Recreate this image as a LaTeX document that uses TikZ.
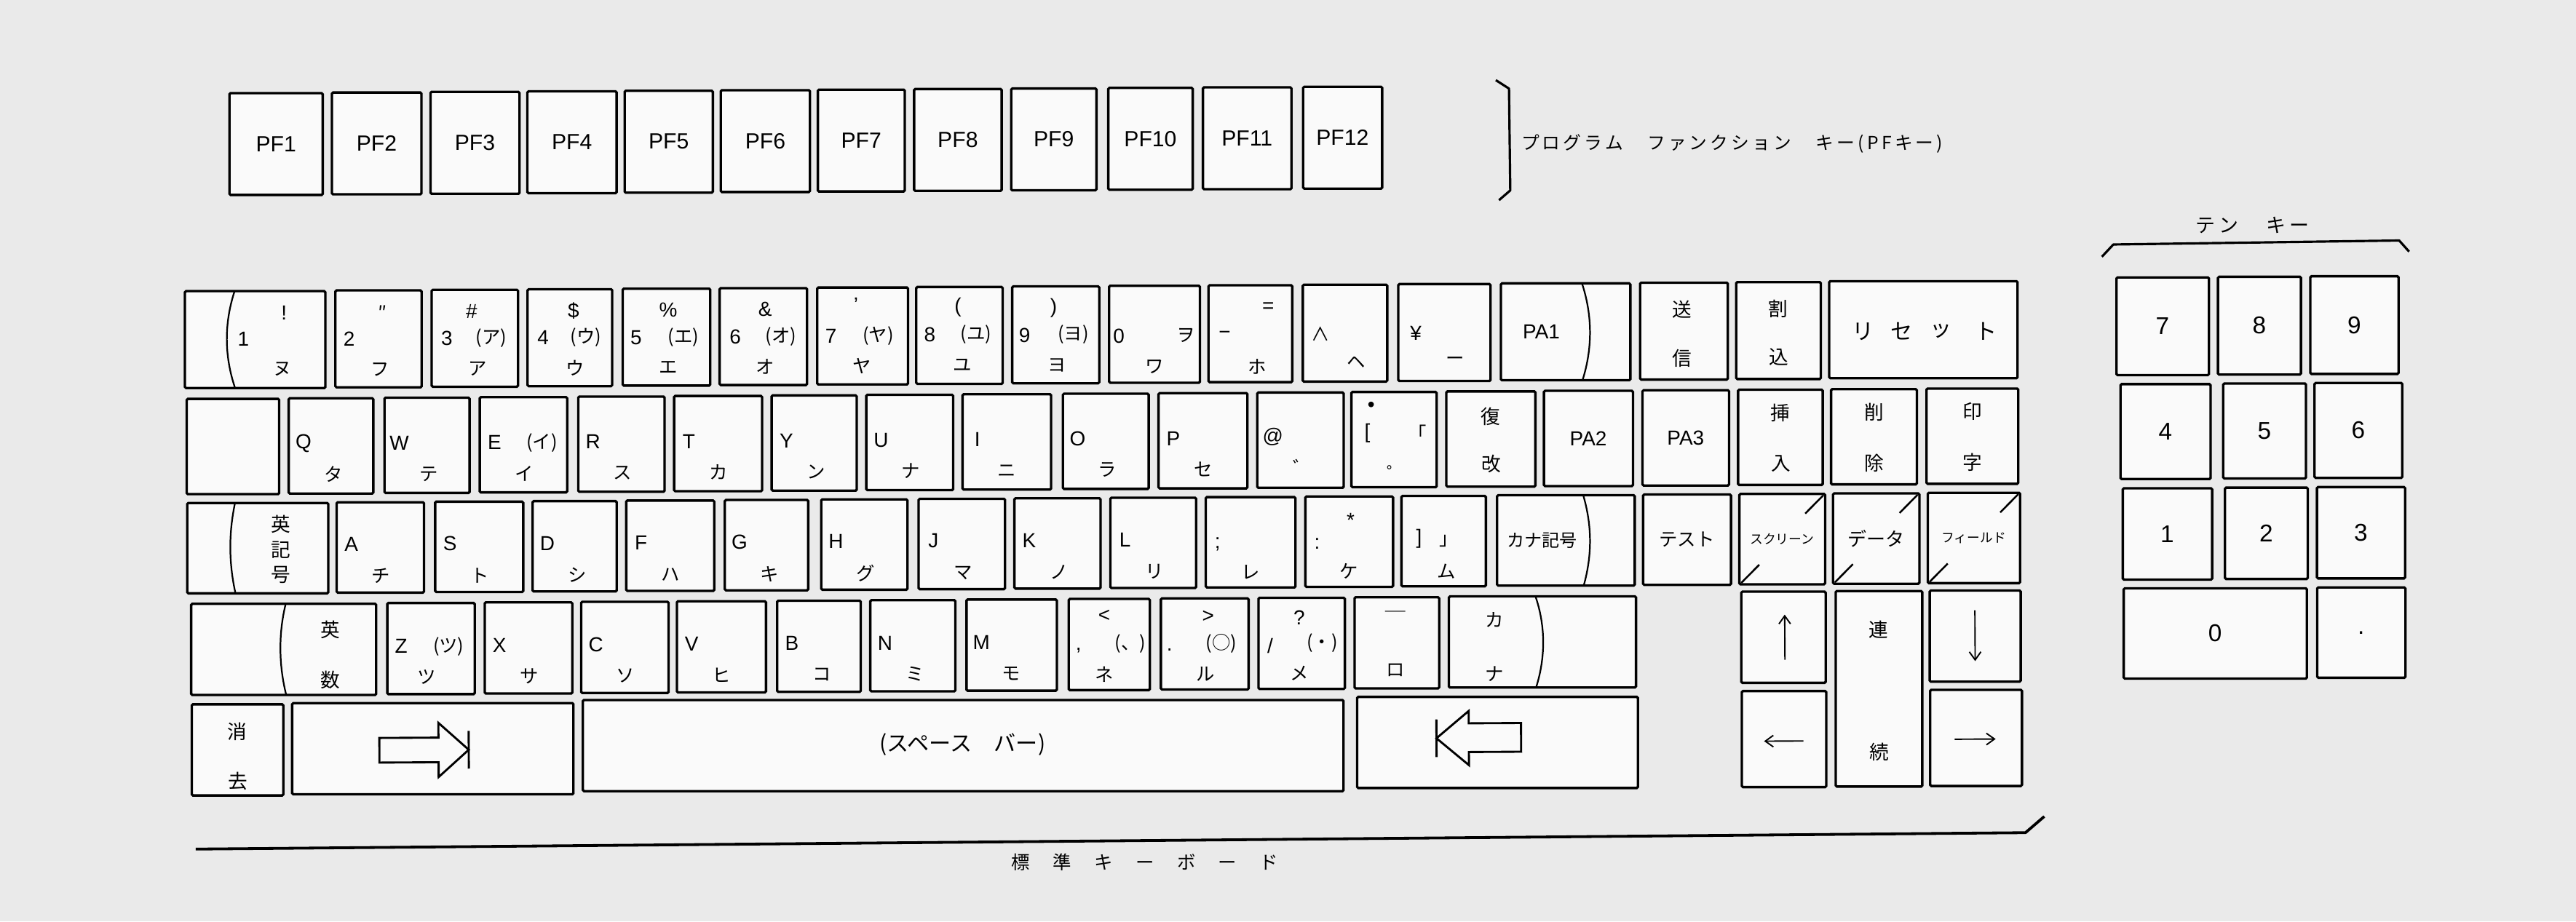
\documentclass[tikz,border=0pt]{standalone}
\usepackage{fontspec}
\setmainfont{Liberation Sans}
\newfontfamily\jp{Noto Sans CJK JP}
\usetikzlibrary{arrows.meta}
\definecolor{bg}{RGB}{234,234,234}
\definecolor{keyfill}{RGB}{250,250,250}
\def\U{0.025cm}
\newcommand\kbkey[5]{\node[key, minimum width={(#4-#2)*\U}, minimum height={(#5-#3)*\U}] (#1) at ({(#2+#4)/2},{(#3+#5)/2}) {};}
\newcommand\kbLK[9]{\kbkey{#1}{#2}{#4}{#3}{#5}\node[lat] (#1-l) at ({#2+9},{#8}) {#6};\node[kana] (#1-b) at ({#2+27},{#9}) {#7};}
\newcommand\RB[5]{\kbLK{#1}{#2}{#3}{243}{301}{#4}{#5}{270.5}{289.5}}
\newcommand\RC[5]{\kbLK{#1}{#2}{#3}{306.5}{361.5}{#4}{#5}{332}{351.5}}
\newcommand\RD[5]{\kbLK{#1}{#2}{#3}{368}{423.5}{#4}{#5}{394}{413}}
\newcommand\kbslash[4]{\draw[slash] ({#2-1},{#3+1}) -- ({#2-12},{#3+12}); \draw[slash] ({#1+1},{#4-1}) -- ({#1+12},{#4-12});}
\begin{document}
\begin{tikzpicture}[x=0.025cm,y=-0.025cm,
  key/.style={draw=black, line width=1.05pt, fill=keyfill, rounded corners=0.5pt, inner sep=0pt, outer sep=0pt},
  lat/.style={inner sep=0pt, font=\fontsize{8.8}{9}\selectfont},
  kana/.style={inner sep=0pt, font=\jp\fontsize{8}{9}\selectfont},
  kanji/.style={inner sep=0pt, font=\jp\fontsize{8.4}{9}\selectfont},
  pf/.style={inner sep=0pt, font=\fontsize{9.5}{10}\selectfont},
  ten/.style={inner sep=0pt, font=\fontsize{10.5}{11}\selectfont},
  curveline/.style={line width=0.7pt},
  slash/.style={line width=0.8pt},
  bracket/.style={line width=1pt, line join=round},
  arr/.style={line width=0.6pt, -{Straight Barb[length=3.5pt,width=5pt]}},
  hollow/.style={line width=0.9pt, line join=miter}
]
\fill[bg] (0,0) rectangle (1568,561);
\useasboundingbox (0,0) rectangle (1568,561);
\begin{scope}[rotate around={0.34:(113,300)}]
% ---------------- PF keys
\foreach \n/\a/\b in {1/140.9/197.7,2/203.3/257.8,3/263.3/317.5,4/322.3/376.6,5/381.5/435.2,6/440/494.3,7/499.1/552,8/557.7/611,9/616.8/668.7,10/675.9/727.3,11/733.5/787.4,12/794.5/842.6}{
  \kbkey{pf\n}{\a}{57}{\b}{119}
  \node[pf] (pf\n-t) at (pf\n) {PF\n};
}
\draw[bracket] (912,53.5) coordinate (pfb1) -- (920,58.7) -- (920.4,120.7) -- (913.5,126.6) coordinate (pfb2);
\node[anchor=west, inner sep=0pt, font=\jp\fontsize{7.8}{8}\selectfont\addfontfeatures{LetterSpace=17}] (pflabel) at (927,92.5) {プログラム　ファンクション　キー(PFキー)};
% ---------------- ten key
\draw[bracket] (1280.3,163.2) coordinate (tb1) -- (1287.3,155.8) -- (1461.3,154.4) -- (1467.3,161.2) coordinate (tb2);
\node[inner sep=0pt, font=\jp\fontsize{8.5}{9}\selectfont\addfontfeatures{LetterSpace=20}] (tenlabel) at (1372,144.5) {テン　キー};
\kbkey{t7}{1288.9}{176}{1345.2}{235.5}\node[ten] (t7-t) at (t7) {7};
\kbkey{t8}{1350.7}{176}{1401.2}{235.5}\node[ten] (t8-t) at (t8) {8};
\kbkey{t9}{1406.9}{176}{1460.6}{235.5}\node[ten] (t9-t) at (t9) {9};
\kbkey{t4}{1291}{241}{1345.8}{298.8}\node[ten] (t4-t) at (t4) {4};
\kbkey{t5}{1353.5}{241}{1403.9}{298.8}\node[ten] (t5-t) at (t5) {5};
\kbkey{t6}{1409.1}{241}{1462.5}{298.8}\node[ten] (t6-t) at (t6) {6};
\kbkey{t1}{1292}{304.4}{1346.4}{360}\node[ten] (t1-t) at (t1) {1};
\kbkey{t2}{1354.2}{304.4}{1404.6}{360}\node[ten] (t2-t) at (t2) {2};
\kbkey{t3}{1410.2}{304.4}{1463.9}{360}\node[ten] (t3-t) at (t3) {3};
\kbkey{t0}{1292.2}{365.5}{1403.7}{420.5}\node[ten] (t0-t) at (t0) {0};
\kbkey{tdot}{1410}{365.5}{1463.7}{420.5}\node[ten] (tdot-t) at (tdot) {.};
% ---------------- row 1
\kbkey{k1}{113.1}{177.5}{198.6}{236.5}
\draw[curveline] (143.5,177.5) .. controls (137,197) and (137,217) .. (143.5,236.5);
\node[lat] (k1-t) at (173.5,191) {!};
\node[lat] (k1-l) at (148.7,206.5) {1};
\node[kana] (k1-b) at (172.4,225) {ヌ};
\kbkey{k2}{204.7}{177.5}{257.2}{236.5}
\node[kana] (k2-t) at (233.5,191) {″};
\node[lat] (k2-l) at (213.1,207) {2};
\node[kana] (k2-b) at (231.8,225.5) {フ};
\kbkey{k3}{263.3}{177.5}{315.9}{236.5}
\node[lat] (k3-t) at (287.7,190.5) {\#};
\node[lat] (k3-l) at (272.5,207) {3};
\node[kana] (k3-p) at (299.6,207) {(ア)};
\node[kana] (k3-b) at (291.1,225.5) {ア};
\kbkey{k4}{321.7}{177.5}{373.2}{236.5}
\node[lat] (k4-t) at (349.8,190.5) {\$};
\node[lat] (k4-l) at (331.1,207) {4};
\node[kana] (k4-p) at (357.2,207) {(ウ)};
\node[kana] (k4-b) at (350.5,225.5) {ウ};
\kbkey{k5}{379.6}{177.5}{432.9}{236.5}
\node[lat] (k5-t) at (407.4,190.5) {\%};
\node[lat] (k5-l) at (387.8,207) {5};
\node[kana] (k5-p) at (416.6,207) {(エ)};
\node[kana] (k5-b) at (407.4,225.5) {エ};
\kbkey{k6}{438.6}{177.5}{491.8}{236.5}
\node[lat] (k6-t) at (466.4,190.5) {\&};
\node[lat] (k6-l) at (448.1,207) {6};
\node[kana] (k6-p) at (475.9,207) {(オ)};
\node[kana] (k6-b) at (466.4,225.5) {オ};
\kbkey{k7}{498}{177.5}{553.3}{236.5}
\node[lat] (k7-t) at (521.7,188) {'};
\node[lat] (k7-l) at (506.4,207) {7};
\node[kana] (k7-p) at (535.2,207) {(ヤ)};
\node[kana] (k7-b) at (525.1,225.5) {ヤ};
\kbkey{k8}{558.3}{177.5}{610.9}{236.5}
\node[lat] (k8-t) at (583.8,190) {(};
\node[lat] (k8-l) at (566.5,206.5) {8};
\node[kana] (k8-p) at (594.6,206.5) {(ユ)};
\node[kana] (k8-b) at (586.1,225) {ユ};
\kbkey{k9}{616.7}{177.5}{669.7}{236.5}
\node[lat] (k9-t) at (642,190.5) {)};
\node[lat] (k9-l) at (624.2,207) {9};
\node[kana] (k9-p) at (653.9,207) {(ヨ)};
\node[kana] (k9-b) at (644,225.5) {ヨ};
\kbkey{k0}{675.7}{177.5}{731}{236.5}
\node[lat] (k0-l) at (681.6,208) {0};
\node[kana] (k0-p) at (722.4,208) {ヲ};
\node[kana] (k0-b) at (703.4,227) {ワ};
\kbkey{kmin}{736.2}{177.5}{787.2}{236.5}
\node[lat] (kmin-t) at (772.6,191.3) {=};
\node[lat] (kmin-l) at (746.1,207.5) {−};
\node[kana] (kmin-b) at (765.9,227) {ホ};
\kbkey{kcar}{793.6}{177.5}{845}{236.5}
\node[kana] (kcar-l) at (804.3,207.5) {∧};
\node[kana] (kcar-b) at (826,225) {ヘ};
\kbkey{kyen}{851.7}{177.5}{907.9}{236.5}
\node[lat] (kyen-l) at (862.4,207.5) {¥};
\node[kana] (kyen-b) at (886.1,224.5) {ー};
\kbkey{pa1}{914.2}{177.5}{993}{236.5}
\draw[curveline] (963.7,177.5) .. controls (970,197) and (970,217) .. (963.7,236.5);
\node[lat] (pa1-t) at (938.8,207) {PA1};
\kbkey{send}{998.9}{177.5}{1052.3}{236.5}
\node[kanji] (send-a) at (1024.5,194) {送};
\node[kanji] (send-b) at (1024.5,223.5) {信};
\kbkey{intr}{1057.4}{177.5}{1108.9}{236.5}
\node[kanji] (intr-a) at (1083.1,193.7) {割};
\node[kanji] (intr-b) at (1083.1,223.3) {込};
\kbkey{reset}{1114}{177.5}{1228.7}{236.5}
\node[kana, font=\jp\fontsize{9.5}{10}\selectfont] (reset-1) at (1134.6,208) {リ};
\node[kana, font=\jp\fontsize{9.5}{10}\selectfont] (reset-2) at (1158.3,208) {セ};
\node[kana, font=\jp\fontsize{9.5}{10}\selectfont] (reset-3) at (1182.2,208) {ッ};
\node[kana, font=\jp\fontsize{9.5}{10}\selectfont] (reset-4) at (1209.7,208) {ト};
% ---------------- row 2
\kbkey{tab}{113.8}{243}{170.1}{301}
\RB{kq}{175.9}{227.4}{Q}{タ}
\RB{kw}{234.2}{286}{W}{テ}
\RB{ke}{292.2}{345.4}{E}{イ}
\node[kana] (ke-p) at (330,271) {(イ)};
\RB{kr}{352.2}{404.7}{R}{ス}
\RB{kt}{410.5}{464.1}{T}{カ}
\RB{ky}{469.9}{521.7}{Y}{ン}
\RB{ku}{527.5}{580.4}{U}{ナ}
\RB{ki}{586.1}{640}{I}{ニ}
\RB{ko}{647.2}{699.4}{O}{ラ}
\RB{kp}{705.4}{759.5}{P}{セ}
\kbkey{kat}{765.5}{243}{818.1}{301}
\node[lat] (kat-l) at (775,270) {@};
\node[kana] (kat-b) at (793,288.5) {゛};
\kbkey{klb}{822.8}{243}{874.7}{301}
\node[lat] (klb-t) at (835,252) {•};
\node[lat] (klb-l) at (832.5,268) {[};
\node[kana] (klb-p) at (863,268) {「};
\node[kana] (klb-b) at (850,292.5) {゜};
\kbkey{kret}{880.6}{243}{934.8}{301}
\node[kanji] (kret-a) at (907.7,258.5) {復};
\node[kanji] (kret-b) at (907.7,287) {改};
\kbkey{pa2}{940}{243}{994.2}{301}\node[lat] (pa2-t) at (pa2) {PA2};
\kbkey{pa3}{1000}{243}{1052.7}{301}\node[lat] (pa3-t) at (pa3) {PA3};
\kbkey{ins}{1058.2}{243}{1109.7}{301}
\node[kanji] (ins-a) at (1084,257) {挿};
\node[kanji] (ins-b) at (1084,288) {入};
\kbkey{del}{1114.8}{243}{1167}{301}
\node[kanji] (del-a) at (1141,257) {削};
\node[kanji] (del-b) at (1141,288) {除};
\kbkey{prt}{1172.9}{243}{1228.7}{301}
\node[kanji] (prt-a) at (1200.8,257) {印};
\node[kanji] (prt-b) at (1200.8,288) {字};
% ---------------- row 3
\kbkey{eik}{113.8}{306.5}{199.6}{361.5}
\draw[curveline] (143,306.5) .. controls (139,325) and (139,343) .. (143,361.5);
\node[kanji] (eik-a) at (170.8,319.5) {英};
\node[kanji] (eik-b) at (170.8,335) {記};
\node[kanji] (eik-c) at (170.8,350.5) {号};
\RC{ka}{204.7}{257.9}{A}{チ}
\RC{ks}{264.7}{318.3}{S}{ト}
\RC{kd}{324}{375.2}{D}{シ}
\RC{kf}{381}{434.6}{F}{ハ}
\RC{kg}{441}{491.8}{G}{キ}
\RC{kh}{499.7}{552.2}{H}{グ}
\RC{kj}{559}{611.6}{J}{マ}
\RC{kk}{617.3}{669.7}{K}{ノ}
\RC{kl}{675.7}{727.9}{L}{リ}
\kbkey{ksc}{733.8}{306.5}{788.4}{361.5}
\node[lat] (ksc-l) at (741,335) {;};
\node[kana] (ksc-b) at (761,352) {レ};
\kbkey{kco}{794.4}{306.5}{847.8}{361.5}
\node[lat] (kco-t) at (822,321) {*};
\node[lat] (kco-l) at (801.5,335) {:};
\node[kana] (kco-b) at (821,352) {ケ};
\kbkey{krb}{852.9}{306.5}{904.3}{361.5}
\node[lat] (krb-l) at (863.6,332.4) {]};
\node[kana] (krb-p) at (881.4,333.8) {」};
\node[kana] (krb-b) at (880.2,352.3) {ム};
\kbkey{kks}{911.1}{306.5}{994.9}{361.5}
\draw[curveline] (963.7,306.5) .. controls (969,325) and (969,343) .. (963.7,361.5);
\node[kana, font=\jp\fontsize{7.6}{8}\selectfont] (kks-t) at (938.5,334) {カナ記号};
\kbkey{test}{1000}{306.5}{1053.5}{361.5}\node[kana, font=\jp\fontsize{8}{9}\selectfont] (test-t) at (test) {テスト};
\kbkey{scr}{1058.6}{306.5}{1110.8}{361.5}\node[kana, font=\jp\fontsize{5.6}{6}\selectfont] (scr-t) at (scr) {スクリーン};
\kbslash{1058.6}{1110.8}{306.5}{361.5}
\kbkey{data}{1115.6}{306.5}{1168.2}{361.5}\node[kana, font=\jp\fontsize{8.2}{9}\selectfont] (data-t) at (data) {データ};
\kbslash{1115.6}{1168.2}{306.5}{361.5}
\kbkey{fld}{1173.3}{306.5}{1229.5}{361.5}\node[kana, font=\jp\fontsize{5.6}{6}\selectfont] (fld-t) at (fld) {フィールド};
\kbslash{1173.3}{1229.5}{306.5}{361.5}
% ---------------- row 4
\kbkey{eisu}{115.8}{368}{228.4}{423.5}
\draw[curveline] (173.5,368) .. controls (169,386) and (169,405) .. (173.5,423.5);
\node[kanji] (eisu-a) at (200.6,384) {英};
\node[kanji] (eisu-b) at (200.6,414.5) {数};
\kbkey{kz}{235.2}{368}{288.4}{423.5}
\node[lat] (kz-l) at (243.6,394) {Z};
\node[kana] (kz-p) at (272.5,394.5) {(ツ)};
\node[kana] (kz-b) at (259,413) {ツ};
\RD{kx}{294.5}{347.8}{X}{サ}
\RD{kc}{353.2}{406.4}{C}{ソ}
\RD{kv}{411.5}{465.7}{V}{ヒ}
\RD{kb}{472.5}{523.4}{B}{コ}
\RD{kn}{529.2}{581}{N}{ミ}
\RD{km}{587.8}{642.8}{M}{モ}
\kbkey{klt}{650}{368}{699.4}{423.5}
\node[lat] (klt-t) at (671.7,378.5) {<};
\node[lat] (klt-l) at (656,399) {,};
\node[kana] (klt-p) at (687.6,395.5) {(、)};
\node[kana] (klt-b) at (671.7,414) {ネ};
\kbkey{kgt}{706.1}{368}{759.5}{423.5}
\node[lat] (kgt-t) at (735,379) {>};
\node[lat] (kgt-l) at (711.3,399) {.};
\node[kana] (kgt-p) at (742.9,395.5) {(○)};
\node[kana] (kgt-b) at (733,414) {ル};
\kbkey{kqm}{765.5}{368}{818.1}{423.5}
\node[lat] (kqm-t) at (790.4,380) {?};
\node[lat] (kqm-l) at (772.6,397) {/};
\node[kana] (kqm-p) at (804.3,395.5) {(・)};
\node[kana] (kqm-b) at (790.4,414) {メ};
\kbkey{kus}{824}{368}{875.5}{423.5}
\node[lat, text=black!60] (kus-t) at (848.9,378) {—};
\node[kana] (kus-b) at (848.9,412.5) {ロ};
\kbkey{kkana}{881.4}{368}{995.3}{423.5}
\draw[curveline] (934.3,368) .. controls (940.3,386) and (940.3,405) .. (934.3,423.5);
\node[kana] (kkana-a) at (909.1,382) {カ};
\node[kana] (kkana-b) at (909.1,415) {ナ};
\kbkey{up}{1059.4}{366}{1110.8}{421.5}
\coordinate (up-s) at (1086,407.5); \coordinate (up-e) at (1086,380);
\draw[arr] (up-s) -- (up-e);
\kbkey{cont}{1116.7}{366}{1169.4}{485}
\node[kanji] (cont-a) at (1143,389.3) {連};
\node[kanji] (cont-b) at (1143,464) {続};
\kbkey{down}{1174.1}{366}{1229.5}{421.5}
\coordinate (down-s) at (1201.8,378); \coordinate (down-e) at (1201.8,409);
\draw[arr] (down-s) -- (down-e);
% ---------------- row 5
\kbkey{erase}{115.8}{429}{171.5}{484.5}
\node[kanji] (erase-a) at (143.6,445.5) {消};
\node[kanji] (erase-b) at (143.6,476) {去};
\kbkey{tabr}{176.9}{429}{348.1}{484.5}
\draw[hollow] (230,450) -- (266,450) -- (266,441) -- (284.4,457.5) -- (266,474) -- (266,465) -- (230,465) -- cycle;
\draw[hollow] (284.4,446) -- (284.4,469);
\kbkey{space}{353.9}{429}{816.9}{484.5}
\node[inner sep=0pt, font=\jp\fontsize{9.5}{10}\selectfont] (spacelabel) at (585,456) {(スペース　バー)};
\kbkey{tabl}{825.2}{429}{996.1}{484.5}
\draw[hollow] (925,445) -- (893.2,445) -- (893.2,437.5) -- (873.5,454) -- (893.2,470.5) -- (893.2,462.5) -- (925,462.5) -- cycle;
\draw[hollow] (873.5,442.5) -- (873.5,465.5);
\kbkey{left}{1059.4}{426.5}{1110.8}{485}
\coordinate (left-s) at (1097,457); \coordinate (left-e) at (1073,457);
\draw[arr] (left-s) -- (left-e);
\kbkey{right}{1174}{426.5}{1229.9}{485}
\coordinate (right-s) at (1189,456.5); \coordinate (right-e) at (1214,456.5);
\draw[arr] (right-s) -- (right-e);
% ---------------- bottom bracket
\draw[bracket, line width=1.2pt] (117.8,517) coordinate (bb1) -- (1231.7,513.6) coordinate (bb2) -- (1243.2,503.8) coordinate (bb3);
\node[inner sep=0pt, font=\jp\fontsize{8}{9}\selectfont\addfontfeatures{LetterSpace=12}] (stdlabel) at (695.6,528.5) {標　準　キ　ー　ボ　ー　ド};
\end{scope}
\end{tikzpicture}
\end{document}
